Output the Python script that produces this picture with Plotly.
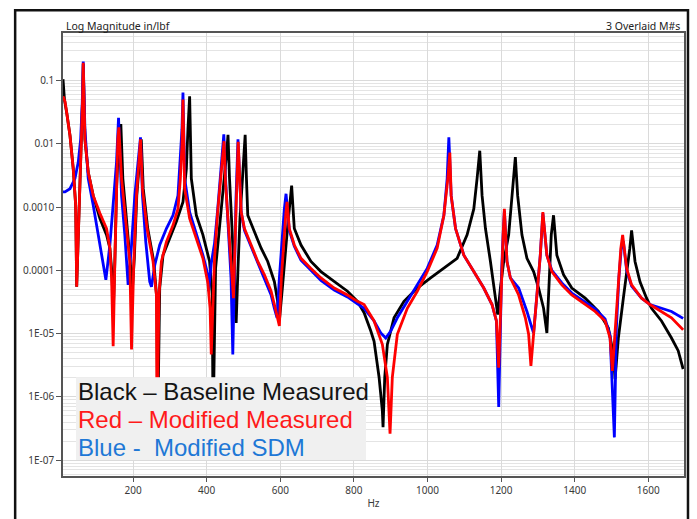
import numpy as np
import plotly.graph_objects as go

# ---------------- data (frequency in Hz, log10 magnitude in in/lbf) ----------------
black_hz = [9.5, 13.6, 19.6, 28.5, 37.4, 43.9, 46.7, 51.0, 55.6, 60.2, 62.9, 64.5, 69.1, 78.1, 91.6,
            109.8, 127.9, 136.9, 141.5, 146.4, 150.4, 155.0, 159.9, 164.0, 166.7, 172.1, 184.3, 193.8,
            196.5, 203.3, 210.0, 216.8, 222.2, 227.6, 239.8, 256.1, 264.2, 266.9, 272.3, 281.3, 299.4,
            317.6, 335.5, 344.7, 349.0, 353.6, 358.2, 371.8, 389.7, 407.8, 415.1, 417.3, 424.1, 432.2,
            440.3, 448.4, 453.9, 457.9, 462.0, 468.8, 475.5, 480.1, 485.0, 490.4, 497.2, 501.3, 504.5,
            508.0, 511.6, 529.7, 547.9, 565.8, 583.9, 592.8, 597.5, 605.6, 613.7, 621.8, 627.3, 630.8,
            635.4, 638.1, 656.2, 683.3, 710.4, 746.5, 782.5, 809.6, 827.7, 845.9, 854.8, 868.4, 877.3,
            879.2, 883.8, 890.9, 909.0, 936.1, 972.2, 1008.5, 1044.5, 1080.5, 1107.6, 1125.8, 1134.7,
            1142.0, 1148.3, 1157.5, 1171.0, 1184.6, 1190.8, 1198.1, 1207.0, 1220.6, 1229.5, 1238.7,
            1245.0, 1256.6, 1270.2, 1288.3, 1301.9, 1315.4, 1324.4, 1330.9, 1336.3, 1342.5, 1351.5,
            1369.6, 1392.1, 1428.4, 1464.4, 1491.5, 1505.1, 1509.7, 1518.6, 1532.2, 1543.0, 1549.8,
            1554.6, 1563.9, 1577.4, 1595.3, 1608.8, 1635.9, 1663.0, 1681.2, 1694.7]
black_logmag = [-0.98, -1.31, -1.51, -1.87, -2.40, -2.97, -4.26, -3.34, -2.40, -1.77, -1.25, -0.74, -1.93,
                -2.45, -2.82, -3.18, -3.44, -3.65, -3.97, -4.60, -3.86, -2.71, -2.08, -1.85, -1.69, -2.55,
                -3.34, -3.97, -4.44, -3.81, -2.82, -2.24, -1.93, -2.71, -3.34, -3.86, -4.44, -6.48, -4.28,
                -3.76, -3.50, -3.23, -2.92, -2.40, -1.77, -1.25, -2.55, -3.13, -3.44, -3.86, -4.39, -6.48,
                -3.97, -3.50, -3.03, -2.55, -2.16, -1.86, -2.55, -3.34, -4.12, -4.83, -3.97, -3.18, -2.55,
                -2.16, -1.86, -2.55, -3.13, -3.39, -3.65, -3.86, -4.18, -4.49, -4.80, -4.28, -3.65, -3.18,
                -2.87, -2.66, -3.10, -3.34, -3.60, -3.86, -4.02, -4.18, -4.33, -4.49, -4.67, -4.96, -5.12,
                -5.69, -6.22, -6.48, -5.69, -5.17, -4.75, -4.49, -4.28, -4.12, -3.97, -3.81, -3.44, -3.03,
                -2.55, -2.11, -2.82, -3.34, -3.86, -4.39, -4.70, -4.28, -3.86, -3.44, -2.82, -2.21, -2.82,
                -3.44, -3.81, -4.02, -4.28, -4.60, -4.99, -4.12, -3.44, -3.13, -3.76, -4.07, -4.28, -4.44,
                -4.65, -4.91, -5.33, -5.72, -5.07, -4.44, -3.97, -3.65, -3.37, -3.86, -4.18, -4.44, -4.60,
                -4.80, -5.07, -5.27, -5.56]

red_hz = [9.5, 14.9, 19.6, 28.5, 37.4, 43.9, 46.7, 51.0, 55.6, 60.2, 62.9, 64.5, 69.1, 78.1, 91.6, 109.8,
          127.9, 136.9, 141.5, 145.8, 150.4, 155.0, 158.5, 161.3, 168.6, 182.1, 191.1, 195.7, 201.9, 209.2,
          216.3, 220.1, 225.5, 237.9, 254.2, 263.4, 265.0, 270.4, 276.9, 290.5, 308.4, 321.9, 328.4, 332.8,
          335.5, 340.1, 353.6, 371.8, 389.7, 403.2, 409.2, 412.4, 417.3, 421.3, 429.5, 437.6, 443.0, 447.1,
          451.2, 459.3, 466.1, 472.8, 478.2, 482.3, 485.6, 493.7, 502.6, 520.8, 538.7, 556.8, 575.0, 583.9,
          592.8, 597.5, 602.9, 609.6, 615.1, 618.3, 624.5, 638.1, 656.2, 683.3, 710.4, 746.5, 782.5, 809.6,
          827.7, 854.8, 877.3, 890.9, 898.2, 904.4, 918.0, 945.1, 972.2, 999.2, 1026.3, 1044.5, 1055.3,
          1060.7, 1064.3, 1076.2, 1098.7, 1125.8, 1152.9, 1175.3, 1187.3, 1193.5, 1197.6, 1201.6, 1205.7,
          1208.9, 1216.0, 1225.2, 1247.7, 1265.8, 1274.8, 1281.0, 1288.3, 1297.3, 1306.5, 1313.5, 1324.4,
          1337.9, 1365.0, 1392.1, 1428.4, 1455.5, 1482.6, 1496.1, 1502.4, 1510.5, 1518.6, 1525.4, 1530.3,
          1541.1, 1554.6, 1581.7, 1604.5, 1635.9, 1663.0, 1694.7]
red_logmag = [-1.25, -1.33, -1.51, -1.87, -2.40, -2.97, -4.26, -3.34, -2.40, -1.77, -1.25, -0.72, -1.93,
              -2.45, -2.82, -3.10, -3.34, -3.65, -4.12, -5.20, -3.86, -2.55, -1.93, -1.74, -2.55, -3.34,
              -3.86, -5.25, -3.86, -2.82, -2.19, -1.93, -2.71, -3.34, -3.86, -4.39, -6.48, -4.39, -3.86,
              -3.55, -3.29, -3.03, -2.55, -2.03, -1.30, -2.71, -3.18, -3.50, -3.81, -4.20, -4.60, -5.33,
              -4.28, -3.81, -3.10, -2.55, -2.16, -1.96, -2.63, -3.34, -3.89, -4.44, -3.34, -2.55, -1.97,
              -3.08, -3.34, -3.60, -3.86, -4.07, -4.33, -4.54, -4.75, -4.88, -4.12, -3.50, -3.10, -2.92,
              -3.34, -3.60, -3.81, -3.97, -4.12, -4.28, -4.39, -4.49, -4.54, -4.80, -5.17, -5.69, -6.58,
              -5.69, -5.01, -4.60, -4.33, -4.02, -3.65, -3.13, -2.55, -2.14, -2.82, -3.34, -3.76, -4.02,
              -4.28, -4.54, -4.80, -5.54, -4.75, -3.97, -3.42, -3.03, -3.86, -4.12, -4.39, -4.75, -5.01,
              -5.51, -4.99, -4.39, -3.76, -3.08, -3.76, -4.02, -4.23, -4.39, -4.54, -4.65, -4.80, -5.07,
              -5.59, -4.91, -4.12, -3.65, -3.44, -3.97, -4.23, -4.44, -4.54, -4.65, -4.75, -4.94]

blue_hz = [9.5, 14.9, 28.5, 42.0, 51.0, 57.5, 61.8, 64.5, 69.1, 78.1, 91.6, 105.2, 118.7, 126.0, 136.9,
           145.8, 155.0, 160.4, 168.6, 177.5, 186.5, 195.7, 204.6, 213.5, 220.1, 225.5, 234.4, 245.2, 249.9,
           258.8, 272.3, 290.5, 308.4, 321.9, 328.4, 332.8, 335.5, 340.1, 353.6, 371.8, 389.7, 403.2, 405.1,
           412.4, 421.3, 429.5, 437.6, 443.0, 446.5, 451.2, 459.3, 466.1, 470.9, 475.5, 479.6, 485.0, 493.7,
           502.6, 520.8, 538.7, 556.8, 575.0, 583.9, 591.2, 597.5, 604.2, 611.0, 615.6, 624.5, 638.1, 656.2,
           683.3, 710.4, 746.5, 782.5, 809.6, 827.7, 854.8, 873.0, 886.5, 900.1, 918.0, 945.1, 972.2, 999.2,
           1026.3, 1044.5, 1053.4, 1058.0, 1064.3, 1076.2, 1098.7, 1125.8, 1152.9, 1175.3, 1187.3, 1193.5,
           1197.6, 1201.6, 1205.7, 1208.9, 1216.0, 1225.2, 1247.7, 1270.2, 1283.7, 1288.3, 1297.3, 1306.5,
           1313.5, 1324.4, 1337.9, 1365.0, 1392.1, 1428.4, 1455.5, 1482.6, 1496.1, 1507.8, 1513.2, 1520.0,
           1526.7, 1532.2, 1541.1, 1554.6, 1581.7, 1604.5, 1635.9, 1663.0, 1694.7]
blue_logmag = [-2.76, -2.76, -2.71, -2.55, -2.29, -1.93, -1.35, -0.70, -1.77, -2.55, -2.97, -3.44, -3.86,
               -4.15, -3.60, -2.92, -2.29, -1.59, -2.82, -3.44, -4.23, -3.60, -2.82, -2.29, -1.90, -2.82,
               -3.55, -4.18, -4.26, -3.92, -3.60, -3.34, -3.13, -2.82, -2.29, -1.77, -1.19, -2.55, -3.08,
               -3.44, -3.76, -4.07, -4.33, -3.89, -3.57, -3.06, -2.52, -2.11, -1.85, -2.55, -3.34, -4.12,
               -5.33, -3.81, -2.87, -1.93, -3.08, -3.37, -3.62, -3.89, -4.12, -4.39, -4.60, -4.75, -4.12,
               -3.50, -3.03, -2.79, -3.37, -3.62, -3.84, -4.00, -4.16, -4.31, -4.42, -4.53, -4.60, -4.80,
               -4.99, -5.07, -4.96, -4.75, -4.49, -4.23, -3.97, -3.60, -3.13, -2.55, -1.90, -2.82, -3.34,
               -3.76, -4.02, -4.28, -4.54, -4.80, -6.16, -4.75, -3.97, -3.42, -3.06, -3.86, -4.12, -4.28,
               -4.65, -4.91, -4.99, -4.39, -3.76, -3.10, -3.76, -4.00, -4.20, -4.36, -4.50, -4.61, -4.77,
               -5.03, -6.64, -4.91, -4.12, -3.65, -3.54, -4.00, -4.25, -4.44, -4.54, -4.60, -4.65, -4.76]

y_tick_values = [1e-1, 1e-2, 1e-3, 1e-4, 1e-5, 1e-6, 1e-7]
y_tick_labels = ["0.1", "0.01", "0.0010", "0.0001", "1E-05", "1E-06", "1E-07"]

legend_lines = ["Black \u2013 Baseline Measured", "Red \u2013 Modified Measured", "Blue -  Modified SDM"]
legend_colors = ["#141414", "#ff1a1a", "#1e78d6"]

# ---------------- figure ----------------
W, H = 697, 519
L_PX, R_PX, T_PX, B_PX = 63, 686, 33, 479
pw, ph = R_PX - L_PX, B_PX - T_PX


def px_x(x):
    return (x - L_PX) / pw


def px_y(y):
    return (B_PX - y) / ph


fig = go.Figure()
series = [(black_hz, black_logmag, "#000000"),
          (blue_hz, blue_logmag, "#0000ff"),
          (red_hz, red_logmag, "#ff0000")]
for hz, lm, col in series:
    fig.add_trace(go.Scatter(x=hz, y=np.power(10.0, np.array(lm)), mode="lines",
                             line=dict(color=col, width=2.8), showlegend=False,
                             hoverinfo="skip"))

tick_font = dict(family="Noto Sans, Open Sans, sans-serif", size=10, color="#3a3a3a")

fig.update_layout(
    width=W, height=H, autosize=False,
    margin=dict(l=L_PX, r=W - R_PX, t=T_PX, b=H - B_PX, pad=0),
    paper_bgcolor="white", plot_bgcolor="white",
    showlegend=False,
    xaxis=dict(range=[9.5, 1697], tickmode="linear", tick0=0, dtick=200,
               ticks="outside", ticklen=4, tickcolor="#555555",
               showgrid=True, gridcolor="#dadada", gridwidth=1, zeroline=False,
               showline=True, linecolor="#555555", linewidth=1.5, mirror=True,
               tickfont=tick_font,
               title=dict(text="Hz", font=tick_font, standoff=4)),
    yaxis=dict(type="log", range=[-7.25, -0.25], tickmode="array",
               tickvals=y_tick_values, ticktext=y_tick_labels,
               ticks="outside", ticklen=5, tickcolor="#555555",
               showgrid=True, gridcolor="#dadada", gridwidth=1, zeroline=False,
               showline=True, linecolor="#555555", linewidth=1.5, mirror=True,
               tickfont=tick_font,
               minor=dict(showgrid=True, gridcolor="#e4e4e4", gridwidth=1, dtick="D1", ticks="")),
)

# outer frame of the picture
fig.add_shape(type="rect", xref="paper", yref="paper",
              x0=px_x(15), x1=px_x(690), y0=px_y(540), y1=px_y(10),
              line=dict(color="#111111", width=2.5), fillcolor="rgba(0,0,0,0)", layer="above")

# legend box (opaque, over curves)
fig.add_shape(type="rect", xref="paper", yref="paper",
              x0=px_x(76), x1=px_x(367), y0=px_y(463), y1=px_y(379.5),
              line=dict(width=0), fillcolor="#f0f0f0", layer="above")

for i, (txt, col) in enumerate(zip(legend_lines, legend_colors)):
    fig.add_annotation(xref="paper", yref="paper", x=px_x(76.5), y=px_y(394 + 28 * i),
                       xanchor="left", yanchor="middle", showarrow=False,
                       text=txt, font=dict(family="Liberation Sans, Arial, sans-serif",
                                           size=24, color=col))

head_font = dict(family="Noto Sans, Open Sans, sans-serif", size=10.5, color="#222222")
fig.add_annotation(xref="paper", yref="paper", x=px_x(64), y=px_y(26), xanchor="left",
                   yanchor="middle", showarrow=False, text="Log Magnitude in/lbf", font=head_font)
fig.add_annotation(xref="paper", yref="paper", x=px_x(684), y=px_y(26), xanchor="right",
                   yanchor="middle", showarrow=False, text="3 Overlaid M#s", font=head_font)

fig.write_html("out.html", config={"displayModeBar": False},
               post_script="document.body.style.margin='0';document.body.style.overflow='hidden';")
